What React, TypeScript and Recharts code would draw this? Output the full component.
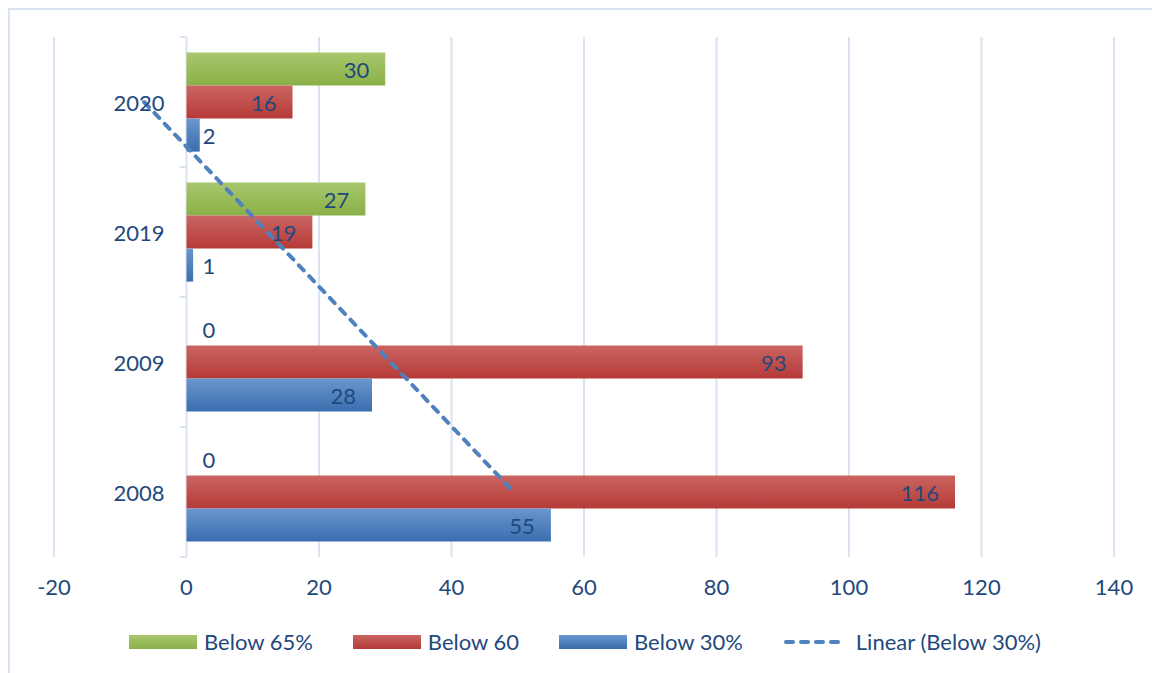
import React from 'react';
import { ComposedChart, Bar, Line, XAxis, YAxis, CartesianGrid, Legend } from 'recharts';

// values
const years = ['2020', '2019', '2009', '2008'];
const below65 = [30, 27, 0, 0];
const below60 = [16, 19, 93, 116];
const below30 = [2, 1, 28, 55];
// Excel linear trendline of "Below 30%", read at each category centre
const trendBelow30 = [-6.4, 12.2, 30.8, 49.4];
const xTicks = [-20, 0, 20, 40, 60, 80, 100, 120, 140];

const data = years.map((year, i) => ({
  year,
  below65: below65[i],
  below60: below60[i],
  below30: below30[i],
  trend: trendBelow30[i],
}));

const TEXT = '#1F497D';
const FONT = 'Lato, "Open Sans", sans-serif';
const FS = 22;
const GRID = '#d9e3f1';

const CHART_W = 1150;
const CHART_H = 663;
const X_AXIS_H = 30;
const margin = { top: 27, right: 46, bottom: 116 - X_AXIS_H, left: 43 };
const Y_AXIS_W = 1;
const X_MIN = -20;
const X_MAX = 140;
const PLOT_LEFT = margin.left + Y_AXIS_W;
const PLOT_W = CHART_W - PLOT_LEFT - margin.right;
const PLOT_H = CHART_H - margin.top - margin.bottom - X_AXIS_H;
const ZERO_X = PLOT_LEFT + (PLOT_W * (0 - X_MIN)) / (X_MAX - X_MIN);
const BAND = PLOT_H / years.length;

const CategoryTick = ({ y, payload, index }: any) => (
  <g>
    <line x1={ZERO_X - 7} x2={ZERO_X} y1={y - BAND / 2} y2={y - BAND / 2} stroke={GRID} strokeWidth={2} />
    {index === years.length - 1 && (
      <line x1={ZERO_X - 7} x2={ZERO_X} y1={y + BAND / 2} y2={y + BAND / 2} stroke={GRID} strokeWidth={2} />
    )}
    <text x={ZERO_X - 22} y={y} textAnchor="end" dominantBaseline="central" fontSize={FS} fill={TEXT} fontFamily={FONT}>
      {payload.value}
    </text>
  </g>
);

const labelText = (x: number, y: number, value: number, anchor: 'start' | 'end', key?: string) => (
  <text key={key} x={x} y={y} textAnchor={anchor} dominantBaseline="central" fontSize={FS} fill={TEXT} fontFamily={FONT}>
    {value}
  </text>
);

// Excel "inside end" labels; short bars get the label just past the bar
const valueLabel = (x: number, y: number, width: number, height: number, value: number, key?: string) => {
  const cy = y + height / 2;
  if (width > 40) return labelText(x + width - 16, cy, value, 'end', key);
  return labelText(Math.max(x + width + 3, x + 16), cy, value, 'start', key);
};

const renderLabel = (props: any) => {
  const { x, y, width, height, value } = props;
  if (!value) return null;
  return valueLabel(x, y, width, height, value);
};

// the red bar also places the "0" label of the empty green slot just above it
const renderRedLabel = (props: any) => {
  const { x, y, width, height, value } = props;
  const idx = props.index ?? below60.indexOf(value);
  const g = below65[idx];
  return (
    <g>
      {valueLabel(x, y, width, height, value, 'v')}
      {g === 0 && valueLabel(x, y - height, 0, height, g, 'z')}
    </g>
  );
};

const legendItems = [
  { name: 'Below 65%', colors: ['#a8c76c', '#8bb048'], kind: 'bar' },
  { name: 'Below 60', colors: ['#ca6562', '#b53a37'], kind: 'bar' },
  { name: 'Below 30%', colors: ['#6a96cd', '#3a6daf'], kind: 'bar' },
  { name: 'Linear (Below 30%)', colors: ['#4F81BD', '#4F81BD'], kind: 'line' },
];

const renderLegend = () => (
  <div style={{ display: 'flex', justifyContent: 'center', alignItems: 'center', gap: 40, fontFamily: FONT, fontSize: FS, color: TEXT, lineHeight: '20px' }}>
    {legendItems.map((it) => (
      <div key={it.name} style={{ display: 'flex', alignItems: 'center', gap: 7 }}>
        {it.kind === 'bar' ? (
          <div style={{ width: 68, height: 14, background: `linear-gradient(${it.colors[0]}, ${it.colors[1]})` }} />
        ) : (
          <svg width={66} height={14}>
            <line x1={3} x2={63} y1={7} y2={7} stroke={it.colors[0]} strokeWidth={4} strokeDasharray="7 8" strokeLinecap="round" />
          </svg>
        )}
        <span>{it.name}</span>
      </div>
    ))}
  </div>
);

export default function App() {
  return (
    <div
      style={{
        width: CHART_W,
        height: CHART_H,
        borderTop: `2px solid ${GRID}`,
        borderLeft: `2px solid ${GRID}`,
        background: '#fff',
        overflow: 'hidden',
      }}
    >
      <ComposedChart
        width={CHART_W}
        height={CHART_H}
        data={data}
        layout="vertical"
        margin={margin}
        barCategoryGap="12%"
        barGap={0}
      >
        <defs>
          <linearGradient id="gGreen" x1="0" y1="0" x2="0" y2="1">
            <stop offset="0%" stopColor="#a8c76c" />
            <stop offset="100%" stopColor="#8bb048" />
          </linearGradient>
          <linearGradient id="gRed" x1="0" y1="0" x2="0" y2="1">
            <stop offset="0%" stopColor="#ca6562" />
            <stop offset="100%" stopColor="#b53a37" />
          </linearGradient>
          <linearGradient id="gBlue" x1="0" y1="0" x2="0" y2="1">
            <stop offset="0%" stopColor="#6a96cd" />
            <stop offset="100%" stopColor="#3a6daf" />
          </linearGradient>
        </defs>
        <CartesianGrid horizontal={false} stroke={GRID} strokeWidth={2} />
        <XAxis
          type="number"
          domain={[X_MIN, X_MAX]}
          ticks={xTicks}
          height={X_AXIS_H}
          axisLine={false}
          tickLine={false}
          tickSize={0}
          tickMargin={22}
          tick={{ fontSize: FS, fill: TEXT, fontFamily: FONT }}
          interval={0}
        />
        <YAxis
          type="category"
          dataKey="year"
          width={Y_AXIS_W}
          axisLine={false}
          tickLine={false}
          tick={(p: any) => <CategoryTick {...p} />}
          interval={0}
        />
        <Bar dataKey="below65" name="Below 65%" fill="url(#gGreen)" isAnimationActive={false} label={renderLabel} />
        <Bar dataKey="below60" name="Below 60" fill="url(#gRed)" isAnimationActive={false} label={renderRedLabel} />
        <Bar dataKey="below30" name="Below 30%" fill="url(#gBlue)" isAnimationActive={false} label={renderLabel} />
        <Line
          dataKey="trend"
          name="Linear (Below 30%)"
          stroke="#4F81BD"
          strokeWidth={4}
          strokeDasharray="7 8"
          strokeLinecap="round"
          dot={false}
          activeDot={false}
          isAnimationActive={false}
        />
        <Legend
          content={renderLegend}
          verticalAlign="middle"
          align="center"
          layout="horizontal"
          wrapperStyle={{ top: 622, left: 0, width: CHART_W }}
        />
      </ComposedChart>
    </div>
  );
}
